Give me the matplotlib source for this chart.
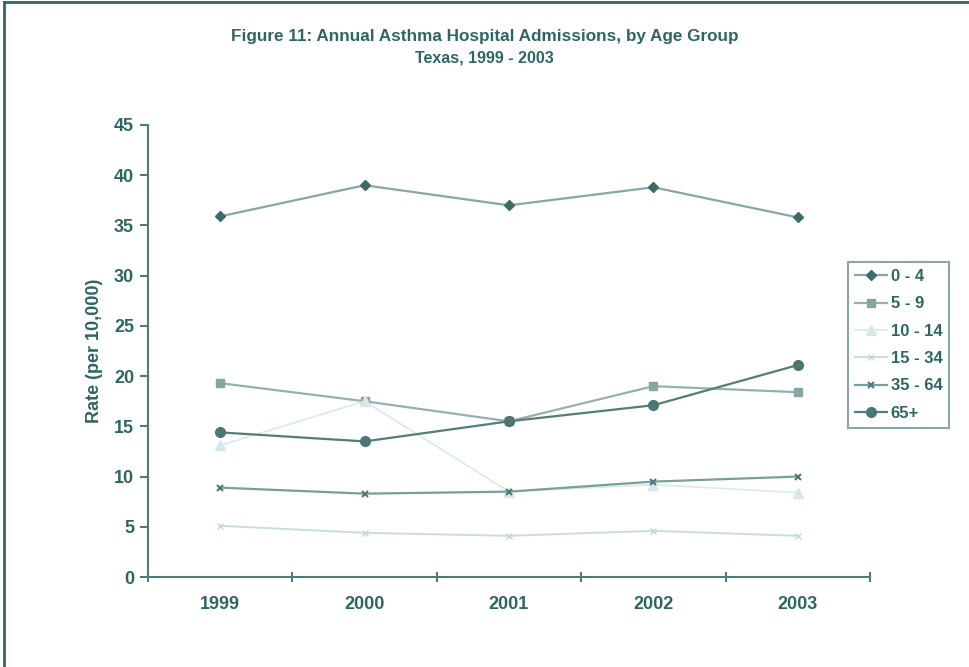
import numpy as np
import matplotlib
matplotlib.use('Agg')
import matplotlib.pyplot as plt
from matplotlib.lines import Line2D

plt.rcParams['font.family'] = ['Liberation Sans', 'DejaVu Sans']

# data
years = ['1999', '2000', '2001', '2002', '2003']
age_0_4 = [35.9, 39.0, 37.0, 38.8, 35.8]
age_5_9 = [19.3, 17.5, 15.5, 19.0, 18.4]
age_10_14 = [13.1, 17.5, 8.5, 9.2, 8.4]
age_15_34 = [5.1, 4.4, 4.1, 4.6, 4.1]
age_35_64 = [8.9, 8.3, 8.5, 9.5, 10.0]
age_65 = [14.4, 13.5, 15.5, 17.1, 21.1]
labels = ['0 - 4', '5 - 9', '10 - 14', '15 - 34', '35 - 64', '65+']

txt = '#2e6661'

fig = plt.figure(figsize=(9.69, 6.67), dpi=100)
ax = fig.add_axes([0.1527, 0.1349, 0.7451, 0.6777])

x = np.arange(len(years))
series = [age_0_4, age_5_9, age_10_14, age_15_34, age_35_64, age_65]
styles = [
    dict(color='#86a8a4', marker='D', ms=5, mfc='#3d6b67', mec='#3d6b67', lw=1.6),
    dict(color='#93b2af', marker='s', ms=6, mfc='#86a6a3', mec='#86a6a3', lw=1.6),
    dict(color='#d9eaea', marker='^', ms=7, mfc='#d6e9e8', mec='#d6e9e8', lw=1.2),
    dict(color='#c9dddc', marker='x', ms=5, mfc='#c2d8d7', mec='#c2d8d7', lw=1.4),
    dict(color='#77a09c', marker='x', ms=5, mfc='#4f7b78', mec='#4f7b78', lw=1.6, mew=1.5),
    dict(color='#527d7a', marker='o', ms=7, mfc='#4c7674', mec='#4c7674', lw=1.6),
]
handles = []
for vals, st, lab in zip(series, styles, labels):
    ln, = ax.plot(x, vals, label=lab, **st)
    handles.append(ln)

ax.set_xlim(-0.5, 4.5)
ax.set_ylim(0, 45)
ax.set_yticks(range(0, 46, 5))
ax.set_xticks(np.arange(-0.5, 5, 1))
ax.set_xticklabels([])
ax.set_xticks(x, minor=True)
ax.set_xticklabels(years, minor=True)
ax.tick_params(axis='x', which='minor', length=0, pad=14, labelsize=13, labelcolor=txt)
ax.tick_params(axis='x', which='major', length=7, width=1.5, color='#4f7b78', direction='inout')
ax.tick_params(axis='y', length=6, width=1.5, color='#4f7b78', labelsize=13, labelcolor=txt, pad=4)
for lab in ax.get_xticklabels(minor=True) + ax.get_yticklabels():
    lab.set_fontweight('bold')

for s in ['top', 'right']:
    ax.spines[s].set_visible(False)
for s in ['left', 'bottom']:
    ax.spines[s].set_color('#4f7b78')
    ax.spines[s].set_linewidth(1.5)

ax.set_ylabel('Rate (per 10,000)', color=txt, fontsize=13, fontweight='bold', labelpad=8)

fig.text(0.5, 0.946, 'Figure 11: Annual Asthma Hospital Admissions, by Age Group',
         ha='center', va='center', color=txt, fontsize=12.3, fontweight='bold')
fig.text(0.5, 0.913, 'Texas, 1999 - 2003',
         ha='center', va='center', color=txt, fontsize=11.5, fontweight='bold')

leg = fig.legend(handles=handles, loc='upper left', bbox_to_anchor=(0.875, 0.607),
                 frameon=True, fancybox=False, handlelength=1.9,
                 labelspacing=0.74, borderpad=0.42, handletextpad=0.25,
                 borderaxespad=0, prop={'weight': 'bold', 'size': 12})
leg.get_frame().set_edgecolor('#6d9490')
leg.get_frame().set_linewidth(1.5)
for t in leg.get_texts():
    t.set_color(txt)

# border lines on left and top of figure
fig.add_artist(Line2D([0.004, 0.004], [0, 0.997], color='#2e6661', lw=2, transform=fig.transFigure))
fig.add_artist(Line2D([0.004, 1.0], [0.997, 0.997], color='#2e6661', lw=2, transform=fig.transFigure))

fig.savefig('out.png', dpi=100)
